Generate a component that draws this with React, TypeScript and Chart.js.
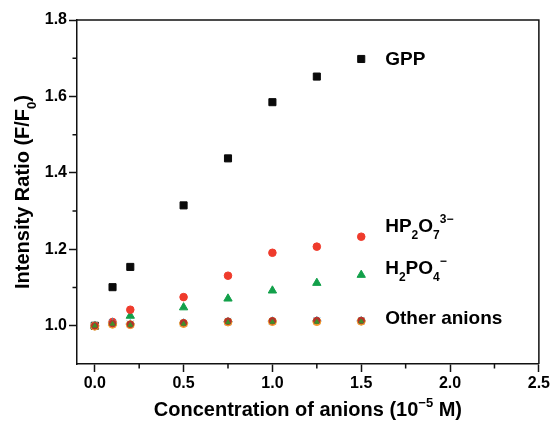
import { useEffect, useRef } from "react";
import { Chart, registerables } from "chart.js";

Chart.register(...registerables);

// ---- data ----
const CONC = [0, 0.1, 0.2, 0.5, 0.75, 1.0, 1.25, 1.5];
const GPP = [1.0, 1.101, 1.154, 1.315, 1.438, 1.585, 1.652, 1.698];
const HP2O7 = [1.0, 1.01, 1.042, 1.075, 1.131, 1.191, 1.207, 1.233];
const H2PO4 = [1.0, 1.008, 1.026, 1.048, 1.071, 1.092, 1.112, 1.133];
const OTHER_1 = [1.0, 1.006, 1.004, 1.008, 1.012, 1.013, 1.014, 1.014];
const OTHER_2 = [1.0, 1.008, 1.005, 1.007, 1.011, 1.012, 1.013, 1.013];
const OTHER_3 = [0.999, 1.004, 1.003, 1.006, 1.01, 1.011, 1.011, 1.012];
const OTHER_4 = [1.0, 1.005, 1.002, 1.005, 1.009, 1.01, 1.01, 1.011];
const OTHER_5 = [1.0, 1.003, 1.003, 1.006, 1.01, 1.011, 1.012, 1.012];

const X_MAJOR = [0, 0.5, 1.0, 1.5, 2.0, 2.5];
const X_MINOR = [0.25, 0.75, 1.25, 1.75, 2.25];
const Y_MAJOR = [1.0, 1.2, 1.4, 1.6, 1.8];
const Y_MINOR = [1.1, 1.3, 1.5, 1.7];

type Kind = "n" | "sub" | "sup";
type Seg = [string, Kind];

const X_TITLE: Seg[] = [
  ["Concentration of anions (10", "n"],
  ["\u22125", "sup"],
  [" M)", "n"],
];
const Y_TITLE: Seg[] = [
  ["Intensity Ratio (F/F", "n"],
  ["0", "sub"],
  [")", "n"],
];

// series labels: text + anchor in data units (left / baseline)
const LABELS: { segs: Seg[]; x: number; y: number }[] = [
  { segs: [["GPP", "n"]], x: 1.635, y: 1.682 },
  { segs: [["HP", "n"], ["2", "sub"], ["O", "n"], ["7", "sub"], ["3\u2212", "sup"]], x: 1.635, y: 1.246 },
  { segs: [["H", "n"], ["2", "sub"], ["PO", "n"], ["4", "sub"], ["\u2212", "sup"]], x: 1.635, y: 1.135 },
  { segs: [["Other anions", "n"]], x: 1.635, y: 1.005 },
];

const FAMILY = '"Liberation Sans", Arial, Helvetica, sans-serif';

function segFont(kind: Kind, size: number) {
  const s = kind === "n" ? size : Math.round(size * 0.63);
  return `bold ${s}px ${FAMILY}`;
}
function richWidth(ctx: CanvasRenderingContext2D, segs: Seg[], size: number) {
  let w = 0;
  for (const [t, k] of segs) {
    ctx.font = segFont(k, size);
    w += ctx.measureText(t).width;
  }
  return w;
}
function drawRich(ctx: CanvasRenderingContext2D, x: number, y: number, segs: Seg[], size: number) {
  let cx = x;
  ctx.textAlign = "left";
  ctx.textBaseline = "alphabetic";
  for (const [t, k] of segs) {
    ctx.font = segFont(k, size);
    const dy = k === "sub" ? size * 0.36 : k === "sup" ? -size * 0.46 : 0;
    ctx.fillText(t, cx, y + dy);
    cx += ctx.measureText(t).width;
  }
}

const decorPlugin = {
  id: "decor",
  afterDraw(chart: any) {
    const ctx: CanvasRenderingContext2D = chart.ctx;
    const { left, right, top, bottom } = chart.chartArea;
    const xs = chart.scales.x;
    const ys = chart.scales.y;
    ctx.save();
    ctx.strokeStyle = "#111";
    ctx.lineWidth = 1.5;
    // top and right frame
    ctx.beginPath();
    ctx.moveTo(left, top);
    ctx.lineTo(right, top);
    ctx.lineTo(right, bottom);
    ctx.stroke();
    // minor ticks
    ctx.beginPath();
    for (const v of X_MINOR) {
      const px = xs.getPixelForValue(v);
      ctx.moveTo(px, bottom);
      ctx.lineTo(px, bottom + 4.5);
    }
    for (const v of Y_MINOR) {
      const py = ys.getPixelForValue(v);
      ctx.moveTo(left, py);
      ctx.lineTo(left - 4.5, py);
    }
    ctx.stroke();

    ctx.fillStyle = "#000";
    // series labels
    for (const l of LABELS) {
      drawRich(ctx, xs.getPixelForValue(l.x), ys.getPixelForValue(l.y), l.segs, 19);
    }
    // x title
    const tw = richWidth(ctx, X_TITLE, 20);
    drawRich(ctx, (left + right) / 2 - tw / 2, bottom + 52, X_TITLE, 20);
    // y title
    const yw = richWidth(ctx, Y_TITLE, 20);
    ctx.translate(left - 48, (top + bottom) / 2);
    ctx.rotate(-Math.PI / 2);
    drawRich(ctx, -yw / 2, 0, Y_TITLE, 20);
    ctx.restore();
  },
};

function pts(ys: number[]) {
  return CONC.map((x, i) => ({ x, y: ys[i] }));
}

export default function App() {
  const ref = useRef<HTMLCanvasElement | null>(null);
  useEffect(() => {
    if (!ref.current) return;
    const mk = (label: string, data: number[], color: string, style: any, r: number) => ({
      label,
      data: pts(data),
      pointStyle: style,
      pointRadius: r,
      pointBackgroundColor: color,
      pointBorderColor: color,
      pointBorderWidth: 1,
      backgroundColor: color,
      borderColor: color,
      showLine: false,
    });
    // lower index is drawn on top
    const chart = new Chart(ref.current, {
      type: "scatter",
      data: {
        datasets: [
          mk("Other anions 4", OTHER_4, "#3f8f2a", "triangle", 2.6),
          mk("Other anions 1", OTHER_1, "#b3322c", "circle", 3.3),
          mk("Other anions 5", OTHER_5, "#e86aa0", "crossRot", 3.5),
          mk("Other anions 3", OTHER_3, "#f39a2c", "circle", 4),
          mk("Other anions 2", OTHER_2, "#2d9fd9", "star", 4.6),
          mk("HP2O7 3-", HP2O7, "#ef3b2c", "circle", 3.8),
          mk("H2PO4-", H2PO4, "#12a04a", "triangle", 4.8),
          mk("GPP", GPP, "#0a0a0a", "rect", 5),
        ],
      },
      options: {
        responsive: false,
        animation: false,
        devicePixelRatio: 1,
        layout: { padding: { top: 20, right: 13, left: 0, bottom: 0 } },
        plugins: { legend: { display: false }, tooltip: { enabled: false } },
        scales: {
          x: {
            type: "linear",
            min: -0.1,
            max: 2.5,
            afterBuildTicks: (s: any) => {
              s.ticks = X_MAJOR.map((v) => ({ value: v }));
            },
            afterFit: (s: any) => {
              s.height = 57;
            },
            ticks: {
              callback: (v: any) => Number(v).toFixed(1),
              color: "#000",
              font: { family: FAMILY, size: 16, weight: "bold" },
              padding: 2,
              maxRotation: 0,
              autoSkip: false,
            },
            grid: {
              drawOnChartArea: false,
              drawTicks: true,
              tickLength: 8,
              tickColor: "#111",
              tickWidth: 1.5,
            },
            border: { display: true, color: "#111", width: 1.5 },
          },
          y: {
            type: "linear",
            min: 0.9,
            max: 1.8,
            afterBuildTicks: (s: any) => {
              s.ticks = Y_MAJOR.map((v) => ({ value: v }));
            },
            afterFit: (s: any) => {
              s.width = 77;
            },
            ticks: {
              callback: (v: any) => Number(v).toFixed(1),
              color: "#000",
              font: { family: FAMILY, size: 16, weight: "bold" },
              padding: 2,
              autoSkip: false,
            },
            grid: {
              drawOnChartArea: false,
              drawTicks: true,
              tickLength: 8,
              tickColor: "#111",
              tickWidth: 1.5,
            },
            border: { display: true, color: "#111", width: 1.5 },
          },
        },
      } as any,
      plugins: [decorPlugin],
    });
    return () => chart.destroy();
  }, []);
  return (
    <div style={{ position: "absolute", left: 0, top: 0, width: 552, height: 421, background: "#fff" }}>
      <canvas ref={ref} width={552} height={421} />
    </div>
  );
}
